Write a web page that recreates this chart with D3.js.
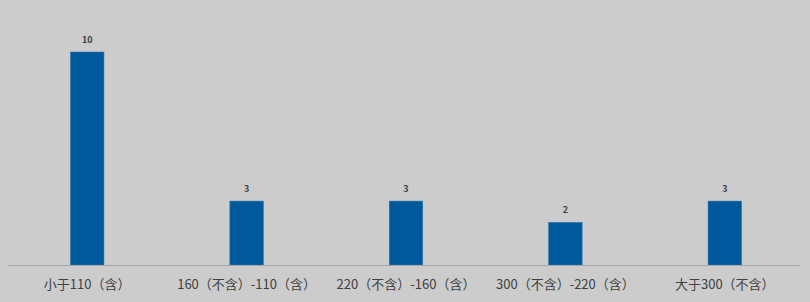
<!DOCTYPE html>
<html>
<head>
<meta charset="utf-8">
<script src="https://cdn.jsdelivr.net/npm/d3@7"></script>
<style>
  html, body { margin: 0; padding: 0; background: #cccccc; }
  svg { display: block; }
  text { font-family: "Noto Sans CJK SC", "Noto Sans", sans-serif; }
</style>
</head>
<body>
<svg id="chart" width="810" height="302"></svg>
<script>
// categories and counts
let categories = ["小于110（含）", "160（不含）-110（含）", "220（不含）-160（含）", "300（不含）-220（含）", "大于300（不含）"];
let counts = [10, 3, 3, 2, 3];

let svg = d3.select("#chart");
let width = +svg.attr("width");
let height = +svg.attr("height");

svg.append("rect")
    .attr("width", width)
    .attr("height", height)
    .attr("fill", "#cccccc");

let x = d3.scaleBand()
    .domain(categories)
    .range([7.5, 804.5])
    .paddingInner(0.79)
    .paddingOuter(0.395);

let y = d3.scaleLinear()
    .domain([0, 10])
    .range([265, 52]);

// bars
svg.append("g").selectAll("rect")
    .data(categories)
    .enter().append("rect")
    .attr("x", d => x(d))
    .attr("y", (d, i) => y(counts[i]))
    .attr("width", x.bandwidth())
    .attr("height", (d, i) => y(0) - y(counts[i]))
    .attr("fill", "#00599b")
    .attr("stroke", "#2f76ad")
    .attr("stroke-width", 0.6);

// value labels
svg.append("g").selectAll("text")
    .data(categories)
    .enter().append("text")
    .attr("x", d => x(d) + x.bandwidth() / 2)
    .attr("y", (d, i) => y(counts[i]) - 9)
    .attr("text-anchor", "middle")
    .attr("font-size", 9)
    .attr("font-weight", "bold")
    .attr("fill", "#404040")
    .text((d, i) => counts[i]);

// x axis
let axis = svg.append("g")
    .attr("transform", "translate(0," + y(0) + ")")
    .call(d3.axisBottom(x).tickSize(0).tickPadding(15));
axis.select(".domain")
    .attr("stroke", "#a6a6a6")
    .attr("d", "M7.5,0.5H800");
axis.selectAll("text")
    .attr("font-size", 13)
    .attr("fill", "#404040")
    .style("font-family", "'Noto Sans CJK SC', sans-serif");
</script>
</body>
</html>
